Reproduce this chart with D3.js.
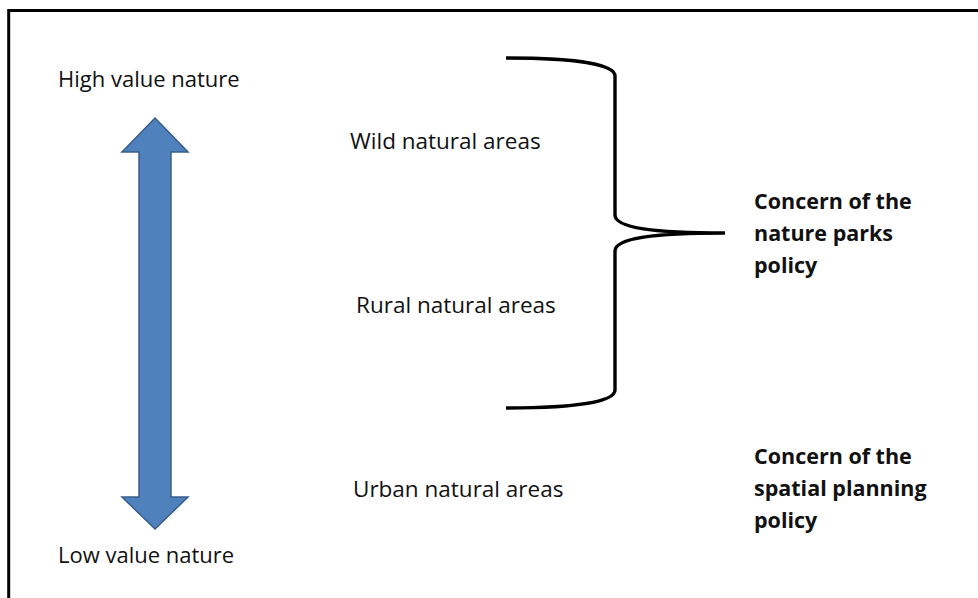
<!DOCTYPE html>
<html>
<head>
<meta charset="utf-8">
<script src="https://cdn.jsdelivr.net/npm/d3@7"></script>
<style>
  body { margin: 0; background: #fff; }
  text { font-family: "Open Sans", sans-serif; fill: #111; }
</style>
</head>
<body>
<div id="diagram"></div>
<script>
// labels of the diagram
var scaleEnds = ["High value nature", "Low value nature"]
var natureAreas = ["Wild natural areas", "Rural natural areas", "Urban natural areas"]
var areaOffsets = [350, 356, 353]   // left x of each area label
var policies = [
  ["Concern of the", "nature parks", "policy"],
  ["Concern of the", "spatial planning", "policy"]
]

var width = 978, height = 598

var svg = d3.select("#diagram").append("svg")
    .attr("width", width)
    .attr("height", height)

// frame: top and left edge only
svg.append("path")
    .attr("d", "M8.7," + height + " V10.5 H" + width)
    .attr("fill", "none")
    .attr("stroke", "#000")
    .attr("stroke-width", 3)

// vertical positions (baselines) of the area labels
var y = d3.scaleLinear().domain([0, 1]).range([149, 313])
var areaY = [y(0), y(1), 497]

// double headed arrow
var ax = 155, shaftHalf = 16, headHalf = 33
var arrowTop = 118, headTop = 152, headBot = 497, arrowBot = 529
var arrow = d3.path()
arrow.moveTo(ax, arrowTop)
arrow.lineTo(ax + headHalf, headTop)
arrow.lineTo(ax + shaftHalf, headTop)
arrow.lineTo(ax + shaftHalf, headBot)
arrow.lineTo(ax + headHalf, headBot)
arrow.lineTo(ax, arrowBot)
arrow.lineTo(ax - headHalf, headBot)
arrow.lineTo(ax - shaftHalf, headBot)
arrow.lineTo(ax - shaftHalf, headTop)
arrow.lineTo(ax - headHalf, headTop)
arrow.closePath()

svg.append("path")
    .attr("d", arrow.toString())
    .attr("fill", "#4F81BD")
    .attr("stroke", "#385D8A")
    .attr("stroke-width", 1.5)

// end labels of the arrow
svg.selectAll(".end")
    .data(scaleEnds)
  .enter().append("text")
    .attr("class", "end")
    .attr("x", 58)
    .attr("y", function(d, i) { return i == 0 ? 87 : 563 })
    .attr("font-size", 22)
    .text(function(d) { return d })

// area labels
svg.selectAll(".area")
    .data(natureAreas)
  .enter().append("text")
    .attr("class", "area")
    .attr("x", function(d, i) { return areaOffsets[i] })
    .attr("y", function(d, i) { return areaY[i] })
    .attr("font-size", 22.5)
    .text(function(d) { return d })

// curly brace
var bx0 = 506, bx1 = 615, tipX = 725
var by0 = 58, by1 = 408, midY = 233
var brace = d3.path()
brace.moveTo(bx0, by0)
brace.bezierCurveTo(575, by0, bx1, by0 + 6, bx1, by0 + 18)
brace.lineTo(bx1, midY - 18)
brace.bezierCurveTo(bx1, midY - 6, 650, midY, tipX, midY)
brace.moveTo(tipX, midY)
brace.bezierCurveTo(650, midY, bx1, midY + 6, bx1, midY + 18)
brace.lineTo(bx1, by1 - 18)
brace.bezierCurveTo(bx1, by1 - 6, 575, by1, bx0, by1)

svg.append("path")
    .attr("d", brace.toString())
    .attr("fill", "none")
    .attr("stroke", "#000")
    .attr("stroke-width", 3.4)

// policy labels
var policyTop = [209, 464]
var lineGap = 32
policies.forEach(function(lines, k) {
  svg.append("text")
      .attr("x", 754)
      .attr("y", policyTop[k])
      .attr("font-size", 21.5)
      .attr("font-weight", "bold")
    .selectAll("tspan")
      .data(lines)
    .enter().append("tspan")
      .attr("x", 754)
      .attr("dy", function(d, i) { return i == 0 ? 0 : lineGap })
      .text(function(d) { return d })
})
</script>
</body>
</html>
